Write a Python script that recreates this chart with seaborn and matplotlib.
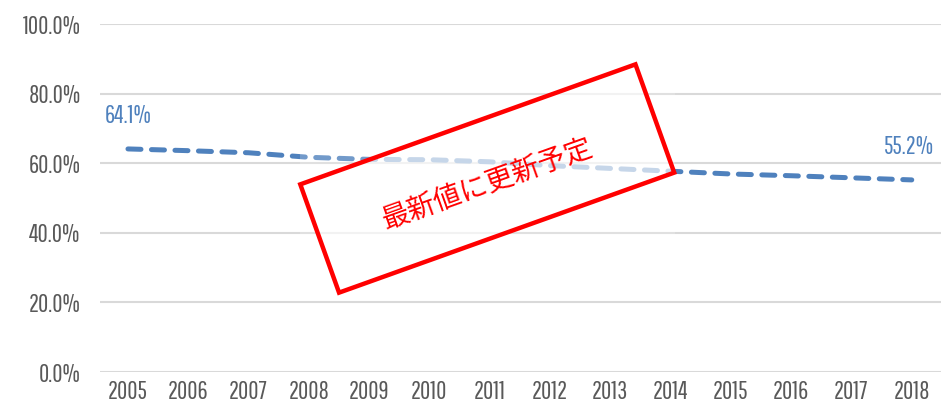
import matplotlib
matplotlib.use("Agg")
import matplotlib.pyplot as plt
from matplotlib import font_manager
from matplotlib.patches import Rectangle
import seaborn as sns
import pandas as pd

# Share of households (%) by year
years = [2005, 2006, 2007, 2008, 2009, 2010, 2011, 2012, 2013, 2014, 2015, 2016, 2017, 2018]
rates = [64.1, 63.6, 63.0, 61.7, 61.1, 61.0, 60.4, 59.3, 58.5, 57.7, 56.9, 56.4, 55.8, 55.2]
y_ticks = [0, 20, 40, 60, 80, 100]
stamp_text = "最新値に更新予定"

LINE_BLUE = "#4F81BD"
TICK_GREY = "#595959"
GRID_GREY = "#D9D9D9"

sns.set_theme(style="white")
installed = {f.name for f in font_manager.fontManager.ttflist}
narrow_choices = ["Pathway Gothic One", "Sofia Sans Extra Condensed",
                  "Fira Sans Extra Condensed", "DejaVu Sans"]
narrow = next(n for n in narrow_choices if n in installed)
plt.rcParams["font.family"] = [narrow, "Noto Sans CJK JP", "DejaVu Sans"]

DPI = 100
fig = plt.figure(figsize=(941 / DPI, 409 / DPI), dpi=DPI)
ax = fig.add_axes([100 / 941, 37 / 409, 841 / 941, 348 / 409])

df = pd.DataFrame({"year": years, "rate": rates})
sns.lineplot(data=df, x="year", y="rate", ax=ax, color=LINE_BLUE,
             linewidth=3.6, linestyle="--", legend=False)
line = ax.lines[0]
line.set_dashes((2.6, 2.1))
line.set_dash_capstyle("round")

ax.set_xlim(2004.536, 2018.485)
ax.set_ylim(0, 100)
ax.set_xticks(years)
ax.set_xticklabels([str(y) for y in years])
ax.set_yticks(y_ticks)
ax.set_yticklabels([f"{v:.1f}%" for v in y_ticks])
ax.tick_params(axis="both", length=0, labelsize=18, colors=TICK_GREY)
ax.tick_params(axis="y", pad=14)
ax.tick_params(axis="x", pad=6)
ax.grid(axis="y", color=GRID_GREY, linewidth=1.5)
ax.set_axisbelow(True)
for s in ax.spines.values():
    s.set_visible(False)
ax.set_xlabel("")
ax.set_ylabel("")

# value labels at both ends of the series
for i, dx in ((0, 0), (len(years) - 1, -2)):
    ax.annotate(f"{rates[i]:.1f}%", (years[i], rates[i]), xytext=(dx, 24),
                textcoords="offset points", ha="center", va="center",
                fontsize=18, color=LINE_BLUE, annotation_clip=False)

# pasted-stamp overlay: faint white backing plus rotated red frame
fig.patches.append(Rectangle((3.00, (409 - 282) / DPI), 3.75, 1.94,
                             transform=fig.dpi_scale_trans,
                             facecolor=(1, 1, 1, 0.2), edgecolor="none", zorder=5))
cx, cy = 4.8725, (409 - 178.5) / DPI
w, h = 3.56, 1.15
fig.patches.append(Rectangle((cx - w / 2, cy - h / 2), w, h, angle=19.7,
                             rotation_point="center", transform=fig.dpi_scale_trans,
                             facecolor=(1, 1, 1, 0.6), edgecolor="#FF0000",
                             linewidth=3.2, zorder=6))
fig.text(4.88, (409 - 185) / DPI, stamp_text, transform=fig.dpi_scale_trans,
         rotation=19.7, rotation_mode="anchor", ha="center", va="center",
         fontsize=20, color="#FF0000", family=["Noto Sans CJK JP", "DejaVu Sans"],
         zorder=7)

fig.savefig("out.png", dpi=DPI)
